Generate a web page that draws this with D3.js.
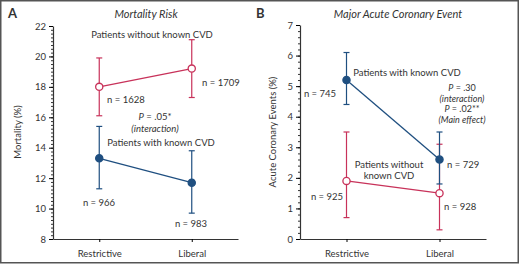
<!DOCTYPE html>
<html><head><meta charset="utf-8">
<script src="https://cdn.jsdelivr.net/npm/d3@7"></script>
<style>
html,body{margin:0;padding:0;background:#fff;}
svg text{font-family:Lato,"Open Sans",sans-serif;fill:#333;}
</style></head>
<body><svg id="c" width="520" height="264"></svg>
<script>
const categories = ["Restrictive", "Liberal"];
// Panel A: Mortality Risk (%)
const mortNoCVD = [18.0, 19.2], mortNoCVDLo = [16.1, 17.3], mortNoCVDHi = [19.9, 21.1];
const mortCVD = [13.3, 11.7], mortCVDLo = [11.3, 9.7], mortCVDHi = [15.4, 13.8];
const mortTicks = [8, 10, 12, 14, 16, 18, 20, 22];
// Panel B: Major Acute Coronary Event (%)
const maceCVD = [5.2, 2.6], maceCVDLo = [4.4, 1.8], maceCVDHi = [6.1, 3.5];
const maceNoCVD = [1.9, 1.5], maceNoCVDLo = [0.7, 0.3], maceNoCVDHi = [3.5, 3.1];
const maceTicks = [0, 1, 2, 3, 4, 5, 6, 7];

const RED = "#c8325a", BLUE = "#1f4f80";
const svg = d3.select("#c");

svg.append("rect").attr("x", 0.75).attr("y", 0.75).attr("width", 517.5).attr("height", 262)
  .attr("fill", "none").attr("stroke", "#555").attr("stroke-width", 1.5);

function panel(cfg) {
  const g = svg.append("g");
  const x = d3.scalePoint().domain(categories).range([cfg.x0, cfg.x1]).padding(0.5);
  const y = d3.scaleLinear().domain(cfg.domain).range([239, cfg.yTop]);
  // minor ticks
  g.append("g").attr("transform", `translate(${cfg.x0},0)`)
    .call(d3.axisLeft(y).tickValues(d3.range(cfg.domain[0], cfg.domain[1] + 1e-9, cfg.minor)).tickSize(2).tickFormat(""))
    .call(a => a.select(".domain").remove())
    .selectAll("line").attr("stroke", "#333");
  const ya = g.append("g").attr("transform", `translate(${cfg.x0},0)`)
    .call(d3.axisLeft(y).tickValues(cfg.ticks).tickSize(4).tickPadding(3).tickSizeOuter(0).tickFormat(d3.format("d")));
  ya.select(".domain").attr("stroke", "#333").attr("stroke-width", 1.2);
  ya.selectAll("text").style("font-size", "9.5px").attr("fill", "#444");
  const xa = g.append("g").attr("transform", `translate(0,239)`)
    .call(d3.axisBottom(x).tickSize(3).tickPadding(8).tickSizeOuter(0));
  xa.select(".domain").attr("stroke", "#333").attr("stroke-width", 1.2);
  xa.selectAll("text").style("font-size", "9.5px").attr("fill", "#333");
  g.append("text").attr("transform", `translate(${cfg.ylabX},132) rotate(-90)`)
    .attr("text-anchor", "middle").style("font-size", "9.5px").text(cfg.ylabel);
  g.append("text").attr("x", cfg.titleX).attr("y", 18).attr("text-anchor", "middle")
    .style("font-size", "11px").style("font-style", "italic").text(cfg.title);
  g.append("text").attr("x", cfg.letterX).attr("y", 18).style("font-size", "13px")
    .style("font-weight", "bold").attr("fill", "#222").text(cfg.letter);

  cfg.series.forEach(s => {
    const pts = categories.map((c, i) => ({c, v: s.v[i], lo: s.lo[i], hi: s.hi[i]}));
    const sg = g.append("g");
    pts.forEach(p => {
      const cx = x(p.c);
      sg.append("line").attr("x1", cx).attr("x2", cx).attr("y1", y(p.lo)).attr("y2", y(p.hi))
        .attr("stroke", s.color).attr("stroke-width", 1.2);
      [p.lo, p.hi].forEach(v => sg.append("line").attr("x1", cx - 3).attr("x2", cx + 3)
        .attr("y1", y(v)).attr("y2", y(v)).attr("stroke", s.color).attr("stroke-width", 1.2));
    });
    sg.append("path").attr("d", d3.line().x(p => x(p.c)).y(p => y(p.v))(pts))
      .attr("fill", "none").attr("stroke", s.color).attr("stroke-width", 1.3);
    sg.selectAll("circle").data(pts).join("circle")
      .attr("cx", p => x(p.c)).attr("cy", p => y(p.v)).attr("r", 3.6)
      .attr("fill", s.filled ? s.color : "#fff").attr("stroke", s.color).attr("stroke-width", 1.3);
  });

  cfg.notes.forEach(n => {
    g.append("text").attr("x", n.x).attr("y", n.y).attr("text-anchor", n.a || "middle")
      .style("font-size", n.fs || "9.5px").style("font-style", n.it ? "italic" : null)
      .html(n.t);
  });
}

panel({
  x0: 53, x1: 238, domain: [8, 22], yTop: 26, ticks: mortTicks, minor: 0.25,
  ylabel: "Mortality (%)", ylabX: 21, title: "Mortality Risk", titleX: 146,
  letter: "A", letterX: 8,
  series: [
    {v: mortNoCVD, lo: mortNoCVDLo, hi: mortNoCVDHi, color: RED, filled: false},
    {v: mortCVD, lo: mortCVDLo, hi: mortCVDHi, color: BLUE, filled: true}
  ],
  notes: [
    {x: 152, y: 38, t: "Patients without known CVD"},
    {x: 107, y: 103, a: "start", t: "n = 1628"},
    {x: 202, y: 86, a: "start", t: "n = 1709"},
    {x: 155, y: 120, t: "<tspan font-style='italic'>P</tspan> = .05*"},
    {x: 155, y: 132, it: true, t: "(interaction)"},
    {x: 161, y: 146, t: "Patients with known CVD"},
    {x: 99, y: 206, t: "n = 966"},
    {x: 191, y: 227, t: "n = 983"}
  ]
});

panel({
  x0: 300, x1: 486, domain: [0, 7], yTop: 25, ticks: maceTicks, minor: 0.2,
  ylabel: "Acute Coronary Events (%)", ylabX: 276, title: "Major Acute Coronary Event", titleX: 398,
  letter: "B", letterX: 256,
  series: [
    {v: maceNoCVD, lo: maceNoCVDLo, hi: maceNoCVDHi, color: RED, filled: false},
    {v: maceCVD, lo: maceCVDLo, hi: maceCVDHi, color: BLUE, filled: true}
  ],
  notes: [
    {x: 407, y: 76, t: "Patients with known CVD"},
    {x: 320, y: 97, t: "n = 745"},
    {x: 462, y: 91, fs: "9px", t: "<tspan font-style='italic'>P</tspan> = .30"},
    {x: 462, y: 101.5, fs: "9px", it: true, t: "(interaction)"},
    {x: 462, y: 112, fs: "9px", t: "<tspan font-style='italic'>P</tspan> = .02**"},
    {x: 462, y: 122.5, fs: "9px", it: true, t: "(Main effect)"},
    {x: 389, y: 168, t: "Patients without"},
    {x: 389, y: 179, t: "known CVD"},
    {x: 447, y: 168, a: "start", t: "n = 729"},
    {x: 327, y: 200, t: "n = 925"},
    {x: 444, y: 210, a: "start", t: "n = 928"}
  ]
});
</script></body></html>
